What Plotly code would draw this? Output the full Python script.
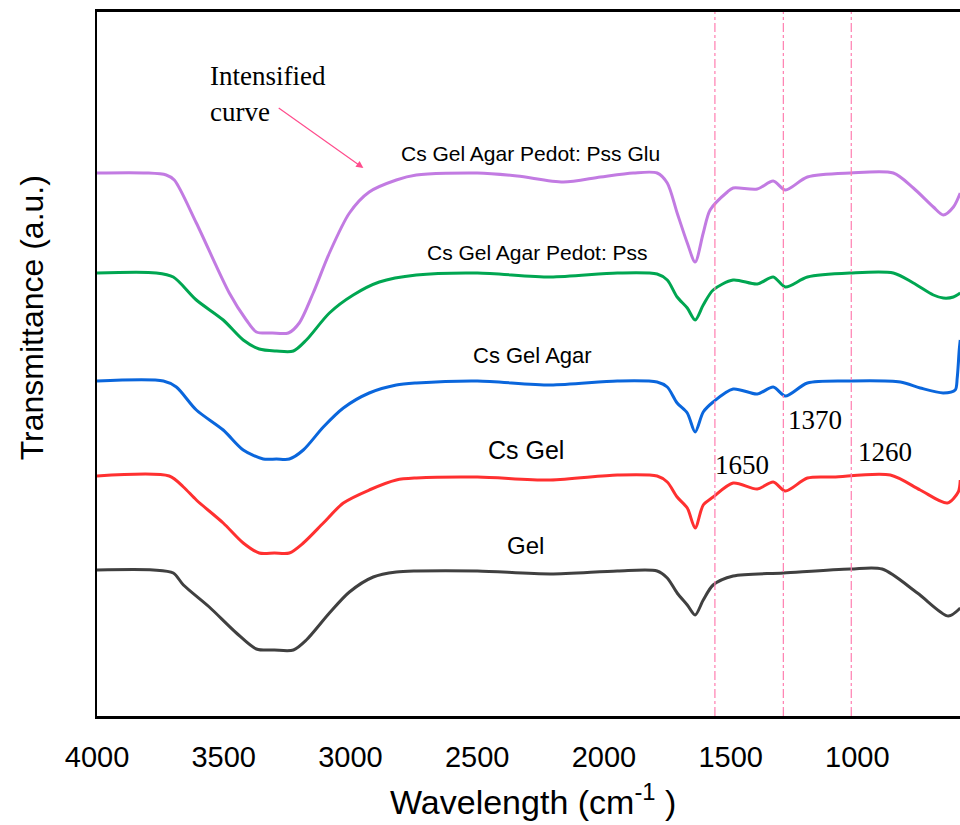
import plotly.graph_objects as go

# ---- data (wavenumber in cm-1, transmittance in a.u. with stacking offset) ----
gel_wn = [4000, 3778, 3699, 3659, 3557, 3450, 3371, 3300, 3225, 3174, 3083, 3004, 2910, 2819, 2740,
          2499, 2211, 1947, 1790, 1750, 1711, 1671, 1640, 1608, 1569, 1490, 1292, 1028, 902, 763, 641, 594]
gel_t = [146, 146, 143, 131, 109, 83, 67, 66, 66, 76, 103, 124, 139, 144, 145,
         145, 142, 145, 145, 138, 123, 111, 101, 116, 131, 140, 143, 147, 147, 123, 100, 108]

csgel_wn = [4000, 3715, 3659, 3608, 3502, 3423, 3360, 3300, 3241, 3186, 3107, 3028, 2926, 2819, 2740,
            2499, 2211, 1947, 1790, 1750, 1711, 1671, 1640, 1608, 1569, 1490, 1395, 1332, 1284, 1197,
            1095, 870, 752, 645, 602, 594]
csgel_t = [240, 240, 229, 216, 193, 173, 163, 163, 163, 173, 193, 213, 226, 236, 238,
           239, 236, 241, 240, 234, 219, 208, 188, 211, 219, 233, 227, 234, 225, 238,
           239, 241, 226, 213, 224, 236]

agar_wn = [4000, 3738, 3687, 3608, 3502, 3423, 3344, 3292, 3241, 3186, 3107, 3028, 2926, 2819, 2740,
           2499, 2211, 1947, 1790, 1750, 1711, 1671, 1640, 1608, 1569, 1490, 1395, 1332, 1284, 1197,
           1028, 830, 752, 661, 614, 606, 598, 594]
agar_t = [335, 335, 329, 306, 286, 266, 257, 257, 257, 266, 289, 308, 323, 331, 333,
          335, 331, 335, 334, 329, 313, 303, 284, 304, 314, 327, 322, 329, 320, 333,
          335, 334, 328, 323, 326, 338, 366, 376]

pss_wn = [4000, 3766, 3699, 3608, 3502, 3423, 3360, 3292, 3225, 3174, 3083, 2989, 2886, 2740,
          2499, 2211, 1947, 1790, 1750, 1711, 1671, 1640, 1608, 1569, 1490, 1395, 1332, 1284, 1197,
          1028, 858, 779, 700, 661, 621, 594]
pss_t = [443, 443, 439, 416, 396, 376, 367, 365, 365, 376, 403, 421, 434, 441,
         443, 439, 443, 442, 436, 419, 408, 396, 411, 426, 436, 432, 439, 429, 439,
         443, 443, 433, 421, 418, 419, 423]

glu_wn = [4000, 3805, 3727, 3695, 3608, 3478, 3411, 3371, 3308, 3245, 3202, 3147, 3083, 3004, 2926,
          2819, 2740, 2499, 2342, 2160, 2014, 1884, 1790, 1750, 1711, 1671, 1640, 1608, 1581, 1513,
          1490, 1395, 1332, 1284, 1197, 1028, 858, 779, 700, 661, 621, 594]
glu_t = [543, 543, 541, 536, 493, 423, 396, 384, 383, 383, 393, 423, 463, 503, 524,
         536, 541, 543, 540, 534, 539, 543, 543, 533, 503, 473, 454, 483, 506, 524,
         528, 527, 535, 526, 539, 543, 543, 528, 509, 501, 509, 523]

series_names = ["Gel", "Cs Gel", "Cs Gel Agar", "Cs Gel Agar Pedot: Pss", "Cs Gel Agar Pedot: Pss Glu"]
series_colors = ["#404040", "#ff3030", "#0a66dc", "#00a651", "#c27be2"]
series_wn = [gel_wn, csgel_wn, agar_wn, pss_wn, glu_wn]
series_t = [gel_t, csgel_t, agar_t, pss_t, glu_t]

# curve labels: (text, wavenumber, level, font size)
label_wn = [2310, 2306, 2282, 2263, 2290]
label_t = [171, 266, 361, 464, 563]
label_size = [24, 25, 22, 21, 21]

marker_wn = [1562, 1292, 1024]          # dashed reference lines
peak_texts = ["1650", "1370", "1260"]
peak_text_wn = [1456, 1166, 891]
peak_text_t = [251, 296, 264]

fig = go.Figure()
for name, col, wn, t in zip(series_names, series_colors, series_wn, series_t):
    fig.add_trace(go.Scatter(x=wn, y=t, mode="lines", name=name,
                             line=dict(color=col, width=3, shape="spline", smoothing=0.8),
                             showlegend=False))

for xv in marker_wn:
    fig.add_shape(type="line", xref="x", yref="paper", x0=xv, x1=xv, y0=0, y1=1,
                  line=dict(color="#ff7eb0", width=1.2, dash="dashdot"))

for name, xv, yv, fs in zip(series_names, label_wn, label_t, label_size):
    fig.add_annotation(x=xv, y=yv, text=name, showarrow=False,
                       font=dict(family="Liberation Sans, Arial", size=fs, color="black"))

for txt, xv, yv in zip(peak_texts, peak_text_wn, peak_text_t):
    fig.add_annotation(x=xv, y=yv, text=txt, showarrow=False,
                       font=dict(family="Liberation Serif, Times New Roman", size=27, color="black"))

fig.add_annotation(x=3561, y=640, text="Intensified", showarrow=False, xanchor="left",
                   font=dict(family="Liberation Serif, Times New Roman", size=27, color="black"))
fig.add_annotation(x=3561, y=604, text="curve", showarrow=False, xanchor="left",
                   font=dict(family="Liberation Serif, Times New Roman", size=27, color="black"))
fig.add_annotation(x=2949, y=548, ax=3289, ay=609, axref="x", ayref="y", text="",
                   showarrow=True, arrowhead=2, arrowsize=1.2, arrowwidth=1.2, arrowcolor="#ff4d8d")

fig.add_annotation(xref="paper", yref="paper", x=-0.0753, y=0.565, text="Transmittance (a.u.)",
                   textangle=-90, showarrow=False, xanchor="center", yanchor="middle",
                   font=dict(family="Liberation Sans, Arial", size=32, color="black"))
fig.add_annotation(xref="paper", yref="paper", x=0.505, y=-0.119,
                   text="Wavelength (cm<sup>-1</sup> )", showarrow=False,
                   xanchor="center", yanchor="middle",
                   font=dict(family="Liberation Sans, Arial", size=34, color="black"))

fig.update_xaxes(range=[4000, 595], tickvals=[4000, 3500, 3000, 2500, 2000, 1500, 1000],
                 ticks="outside", ticklen=13, tickcolor="rgba(0,0,0,0)",
                 tickfont=dict(family="Liberation Sans, Arial", size=29, color="black"),
                 showline=True, linecolor="black", linewidth=2.5, mirror=True,
                 showgrid=False, zeroline=False)
fig.update_yaxes(range=[0, 704], showticklabels=False, ticks="",
                 showline=True, linecolor="black", linewidth=2, mirror=False,
                 showgrid=False, zeroline=False)

fig.update_layout(width=960, height=825, margin=dict(l=97, r=0, t=12, b=109),
                  plot_bgcolor="white", paper_bgcolor="white")

fig.write_html("out.html")
